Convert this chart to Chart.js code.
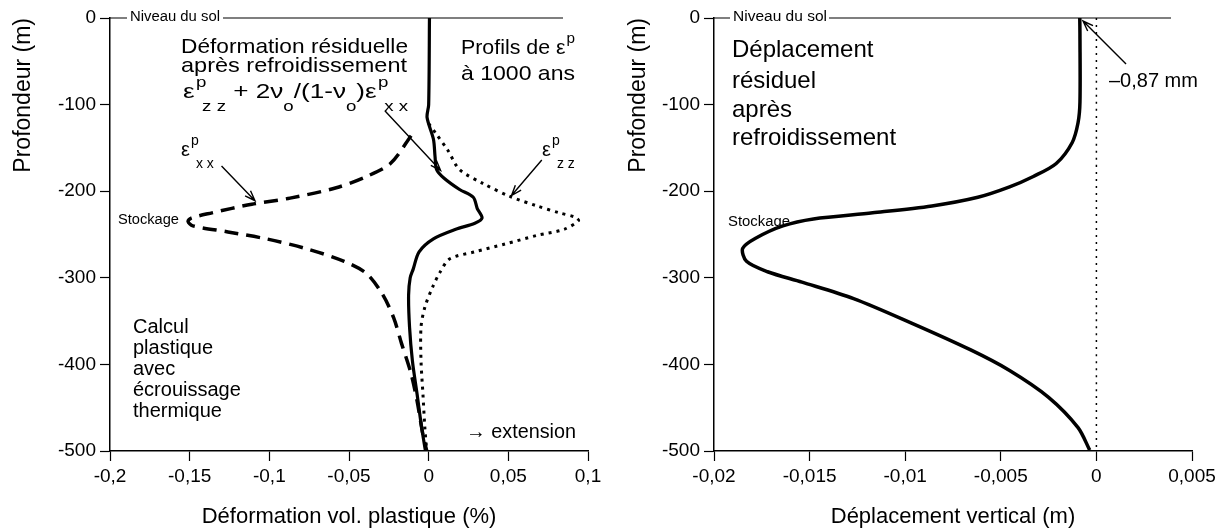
<!DOCTYPE html>
<html lang="fr">
<head>
  <meta charset="UTF-8" />
  <title>Profils de déformation et déplacement</title>
  <script src="https://cdn.jsdelivr.net/npm/chart.js"></script>
  <style>
    body { margin: 0; background: #fff; }
    .wrap { position: relative; width: 1230px; height: 532px; overflow: hidden; }
    canvas { position: absolute; top: 0; }
    #gauche { left: 0; }
    #droite { left: 615px; }
  </style>
</head>
<body>
  <div class="wrap">
    <canvas id="gauche" width="615" height="532"></canvas>
    <canvas id="droite" width="615" height="532"></canvas>
  </div>

  <script>
    // Graduations
    const profTicks = [0, -100, -200, -300, -400, -500];
    const defTicks = [-0.2, -0.15, -0.1, -0.05, 0, 0.05, 0.1];
    const depTicks = [-0.02, -0.015, -0.01, -0.005, 0, 0.005];

    // Déformation résiduelle (trait plein)
    const residuProf = [0, -100, -115, -140, -160, -175, -185, -198, -207, -220, -231, -237, -244, -255, -270, -290, -300, -320, -357, -396, -434, -473, -500];
    const residuDef  = [0.0005, 0, -0.001, 0.003, 0.004, 0.005, 0.0097, 0.0194, 0.028, 0.0305, 0.0335, 0.029, 0.017, 0.003, -0.006, -0.0097, -0.0116, -0.0126, -0.012, -0.0102, -0.0073, -0.0044, -0.002];

    // epsilon p xx (tirets)
    const exxProf = [-136, -168, -183, -196, -208, -215, -225, -231, -235, -240, -247, -255, -266, -281, -295, -319, -346, -376, -411, -442, -481, -500];
    const exxDef  = [-0.011, -0.024, -0.039, -0.058, -0.087, -0.111, -0.136, -0.149, -0.151, -0.148, -0.126, -0.102, -0.0775, -0.053, -0.039, -0.029, -0.022, -0.017, -0.011, -0.0073, -0.0036, -0.0012];

    // epsilon p zz (pointillés)
    const ezzProf = [-122, -134, -153, -175, -191, -206, -217, -225, -230, -234, -244, -251, -261, -270, -278, -293, -311, -334, -357, -396, -434, -473, -500];
    const ezzDef  = [0, 0.0048, 0.0121, 0.0194, 0.034, 0.051, 0.068, 0.082, 0.092, 0.094, 0.085, 0.068, 0.048, 0.029, 0.0133, 0.0073, 0.0024, -0.0024, -0.0048, -0.0048, -0.0036, -0.0024, -0.0012];

    // Déplacement vertical résiduel
    const depProf = [0, -19, -97, -121, -144, -168, -183, -195, -207, -217, -225, -232, -240, -254, -266, -281, -293, -305, -324, -352, -383, -407, -438, -473, -499];
    const depVal  = [-0.00087, -0.00086, -0.00086, -0.00096, -0.00127, -0.0021, -0.0033, -0.00454, -0.0062, -0.0086, -0.0117, -0.0148, -0.0164, -0.0178, -0.0185, -0.0183, -0.0172, -0.0154, -0.0127, -0.0097, -0.0066, -0.00454, -0.0025, -0.00096, -0.00035];

    // Ligne du zéro (droite)
    const zeroProf = [0, -500];
    const zeroVal = [0, 0];

    const POLICE = '"Liberation Sans", Arial, sans-serif';

    function pts(xs, ys) {
      return xs.map((v, i) => ({ x: v, y: ys[i] }));
    }

    function virgule(v) {
      const r = Math.round(v * 100000) / 100000;
      return String(r).replace('.', ',');
    }

    function serie(data, dash, width) {
      return {
        data: data,
        showLine: true,
        borderColor: '#000',
        borderWidth: width,
        borderDash: dash,
        pointRadius: 0,
        fill: false,
        tension: 0.3
      };
    }

    // Texte simple, éventuellement étiré/comprimé à une largeur donnée
    function txt(ctx, s, x, y, size, largeur) {
      ctx.save();
      ctx.font = size + 'px ' + POLICE;
      ctx.textAlign = 'left';
      ctx.textBaseline = 'middle';
      ctx.fillStyle = '#000';
      const w = ctx.measureText(s).width;
      ctx.translate(x, y);
      if (largeur) ctx.scale(largeur / w, 1);
      ctx.fillText(s, 0, 0);
      ctx.restore();
    }

    // Texte avec exposants / indices : [texte, 'n' | 'sup' | 'sub']
    function riche(ctx, parts, x, y, size, largeur) {
      const petit = Math.round(size * 0.72);
      const pose = (dessiner) => {
        let cx = 0;
        let supStart = null;
        parts.forEach(p => {
          const [s, k] = p;
          if (k === 'n') {
            ctx.font = size + 'px ' + POLICE;
            if (dessiner) ctx.fillText(s, cx, 0);
            cx += ctx.measureText(s).width;
            supStart = null;
          } else if (k === 'sup') {
            ctx.font = petit + 'px ' + POLICE;
            supStart = cx;
            if (dessiner) ctx.fillText(s, cx + 1, -size * 0.42);
            cx += ctx.measureText(s).width + 1;
          } else {
            ctx.font = petit + 'px ' + POLICE;
            const sx = supStart !== null ? supStart + 6 : cx;
            if (dessiner) ctx.fillText(s, sx, size * 0.72);
            cx = Math.max(cx, sx + ctx.measureText(s).width);
            supStart = null;
          }
        });
        return cx;
      };
      ctx.save();
      ctx.textAlign = 'left';
      ctx.textBaseline = 'middle';
      ctx.fillStyle = '#000';
      const w = pose(false);
      ctx.translate(x, y);
      if (largeur) ctx.scale(largeur / w, 1);
      pose(true);
      ctx.restore();
    }

    function fleche(ctx, x1, y1, x2, y2) {
      const a = Math.atan2(y2 - y1, x2 - x1);
      const L = 11;
      ctx.save();
      ctx.strokeStyle = '#000';
      ctx.lineWidth = 1.4;
      ctx.beginPath();
      ctx.moveTo(x1, y1);
      ctx.lineTo(x2, y2);
      ctx.moveTo(x2 - L * Math.cos(a - 0.35), y2 - L * Math.sin(a - 0.35));
      ctx.lineTo(x2, y2);
      ctx.lineTo(x2 - L * Math.cos(a + 0.35), y2 - L * Math.sin(a + 0.35));
      ctx.stroke();
      ctx.restore();
    }

    function P(chart, xv, yv) {
      return [chart.scales.x.getPixelForValue(xv), chart.scales.y.getPixelForValue(yv)];
    }

    function ligneSol(ctx, chart, xa, xb, xc, xd) {
      const y = chart.scales.y.getPixelForValue(0);
      ctx.save();
      ctx.strokeStyle = '#000';
      ctx.lineWidth = 1.2;
      ctx.beginPath();
      ctx.moveTo(xa, y); ctx.lineTo(xb, y);
      ctx.moveTo(xc, y); ctx.lineTo(xd, y);
      ctx.stroke();
      ctx.restore();
    }

    const notesGauche = {
      id: 'notesGauche',
      afterDatasetsDraw(chart) {
        const ctx = chart.ctx;
        ctx.save();
        ligneSol(ctx, chart, chart.chartArea.left, 127, 223, 563);
        txt(ctx, 'Niveau du sol', 130, 17, 14, 90);
        txt(ctx, 'Déformation résiduelle', 181, 47, 21, 227);
        txt(ctx, 'après refroidissement', 181, 66, 21, 226);
        riche(ctx, [['ε', 'n'], ['p', 'sup'], ['z z', 'sub'], [' + 2ν', 'n'], ['o', 'sub'],
                    ['/(1-ν', 'n'], ['o', 'sub'], [')ε', 'n'], ['p', 'sup'], ['x x', 'sub']], 183, 92, 21, 225);
        riche(ctx, [['Profils de ε', 'n'], ['p', 'sup']], 461, 48, 21, 114);
        txt(ctx, 'à 1000 ans', 461, 74, 21, 114);
        riche(ctx, [['ε', 'n'], ['p', 'sup'], ['x x', 'sub']], 181, 150, 20);
        riche(ctx, [['ε', 'n'], ['p', 'sup'], ['z z', 'sub']], 542, 150, 20);
        txt(ctx, 'Stockage', 118, 220, 14, 61);
        ['Calcul', 'plastique', 'avec', 'écrouissage', 'thermique'].forEach((s, i) => {
          txt(ctx, s, 133, [327, 348, 369, 390, 411][i], 20);
        });
        txt(ctx, '→ extension', 466, 432, 20, 110);

        let a = P(chart, -0.0275, -107), b = P(chart, 0.0075, -176);
        fleche(ctx, a[0], a[1], b[0], b[1]);
        a = P(chart, -0.13, -171); b = P(chart, -0.109, -211);
        fleche(ctx, a[0], a[1], b[0], b[1]);
        a = P(chart, 0.071, -164); b = P(chart, 0.052, -205);
        fleche(ctx, a[0], a[1], b[0], b[1]);
        ctx.restore();
      }
    };

    const notesDroite = {
      id: 'notesDroite',
      afterDatasetsDraw(chart) {
        const ctx = chart.ctx;
        const o = 615;
        ctx.save();
        ligneSol(ctx, chart, chart.chartArea.left, 730 - o, 829 - o, 1171 - o);
        txt(ctx, 'Niveau du sol', 733 - o, 17, 14, 94);
        ['Déplacement', 'résiduel', 'après', 'refroidissement'].forEach((s, i) => {
          txt(ctx, s, 732 - o, [50, 81, 110, 138][i], 24);
        });
        txt(ctx, 'Stockage', 728 - o, 222, 14, 62);
        txt(ctx, '–0,87 mm', 1109 - o, 81, 20);
        const a = P(chart, 0.00155, -53), b = P(chart, -0.0007, -3.5);
        fleche(ctx, a[0], a[1], b[0], b[1]);
        ctx.restore();
      }
    };

    function axes(xMin, xMax, xTicks, xTitre, yWidth) {
      return {
        x: {
          type: 'linear',
          min: xMin,
          max: xMax,
          afterBuildTicks: s => { s.ticks = xTicks.map(v => ({ value: v })); },
          afterFit: s => { s.height = 81; },
          grid: { drawOnChartArea: false, drawTicks: true, tickLength: 10, tickColor: '#000', tickWidth: 1.2 },
          border: { display: true, color: '#000', width: 1.5 },
          ticks: { color: '#000', padding: 4, maxRotation: 0, autoSkip: false,
                   font: { family: POLICE, size: 19 }, callback: v => virgule(v) },
          title: { display: true, text: xTitre, color: '#000', padding: { top: 0, bottom: 2 },
                   font: { family: POLICE, size: 22 } }
        },
        y: {
          type: 'linear',
          min: -500,
          max: 0,
          afterBuildTicks: s => { s.ticks = profTicks.map(v => ({ value: v })); },
          afterFit: s => { s.width = yWidth; },
          grid: { drawOnChartArea: false, drawTicks: true, tickLength: 10, tickColor: '#000', tickWidth: 1.2 },
          border: { display: true, color: '#000', width: 1.5 },
          ticks: { color: '#000', padding: 4, font: { family: POLICE, size: 19 }, callback: v => String(v) },
          title: { display: true, text: 'Profondeur (m)', color: '#000', align: 'end',
                   padding: { top: 10, bottom: 0 }, font: { family: POLICE, size: 23 } }
        }
      };
    }

    const communes = {
      responsive: false,
      animation: false,
      plugins: { legend: { display: false }, tooltip: { enabled: false } }
    };

    new Chart(document.getElementById('gauche'), {
      type: 'scatter',
      data: {
        datasets: [
          serie(pts(residuDef, residuProf), [], 3.2),
          serie(pts(exxDef, exxProf), [14, 8], 3.5),
          serie(pts(ezzDef, ezzProf), [3, 5], 3)
        ]
      },
      options: Object.assign({}, communes, {
        layout: { padding: { top: 18, right: 27, left: 0, bottom: 0 } },
        scales: axes(-0.2, 0.1, defTicks, 'Déformation vol. plastique (%)', 110)
      }),
      plugins: [notesGauche]
    });

    new Chart(document.getElementById('droite'), {
      type: 'scatter',
      data: {
        datasets: [
          serie(pts(depVal, depProf), [], 3.5),
          serie(pts(zeroVal, zeroProf), [2, 5], 1.5)
        ]
      },
      options: Object.assign({}, communes, {
        layout: { padding: { top: 18, right: 38, left: 0, bottom: 0 } },
        scales: axes(-0.02, 0.005, depTicks, 'Déplacement vertical (m)', 99)
      }),
      plugins: [notesDroite]
    });
  </script>
</body>
</html>
